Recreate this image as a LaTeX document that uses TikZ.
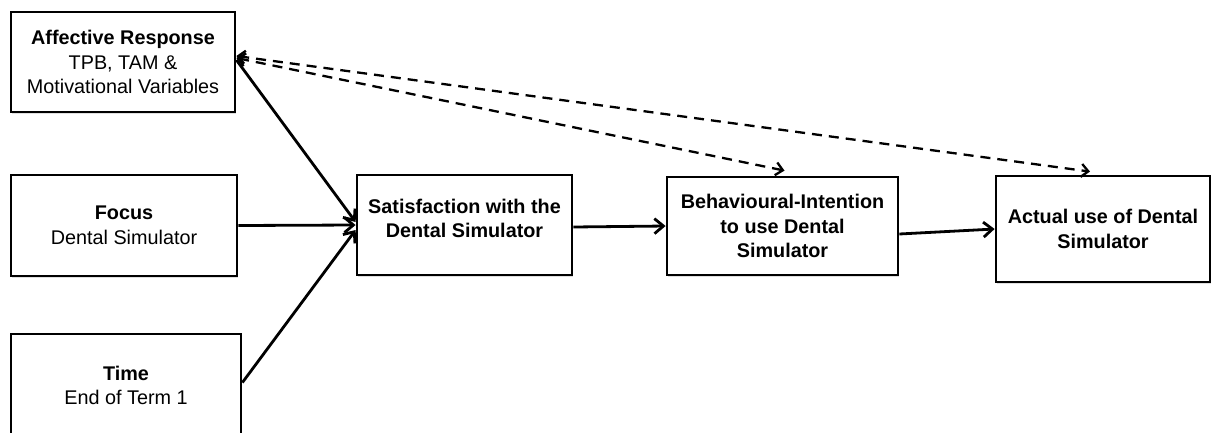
\documentclass[tikz,border=0pt]{standalone}
\usepackage{fontspec}
\setmainfont{Liberation Sans}
\usetikzlibrary{arrows.meta,shadows}

\tikzset{
  box/.style={draw=black, line width=2.8pt, fill=white, align=center,
    inner sep=0pt, font=\fontsize{19.8}{24.5}\selectfont,
    drop shadow={opacity=0.25, shadow xshift=1pt, shadow yshift=-1.5pt}},
  txt/.style={align=center, inner sep=0pt, font=\fontsize{19.8}{24.5}\selectfont},
  arr/.style={line width=2.8pt, -{Straight Barb[length=9pt,width=15pt,line width=2.8pt]}},
  darr/.style={line width=2.3pt, dash pattern=on 10pt off 7pt,
    {Straight Barb[length=7pt,width=13pt,line width=2.3pt]}-{Straight Barb[length=7pt,width=13pt,line width=2.3pt]}}
}

\begin{document}
\begin{tikzpicture}[x=1pt,y=-1pt]
  \useasboundingbox (0,0) rectangle (1220,432);

  % input boxes
  \node[box, minimum width=224pt, minimum height=100pt] (aff) at (123,62)
    {\textbf{Affective Response}\\TPB, TAM \&\\Motivational Variables};
  \node[box, minimum width=226pt, minimum height=101pt] (foc) at (124,225.5)
    {\textbf{Focus}\\Dental Simulator};
  \node[box, minimum width=230pt, minimum height=103pt] (tim) at (126,385.5)
    {\textbf{Time}\\End of Term 1};

  % chain of outcome boxes
  \node[box, minimum width=215pt, minimum height=100pt] (sat) at (464.5,225) {};
  \node[txt] (sattext) at (464.5,218.5)
    {\textbf{Satisfaction with the}\\\textbf{Dental Simulator}};
  \node[box, minimum width=231pt, minimum height=98pt] (beh) at (782.5,226)
    {\textbf{Behavioural-Intention}\\\textbf{to use Dental}\\\textbf{Simulator}};
  \node[box, minimum width=214pt, minimum height=106pt] (act) at (1103,229)
    {\textbf{Actual use of Dental}\\\textbf{Simulator}};

  % solid paths into satisfaction and along the chain
  \draw[arr] ([yshift=2pt]aff.east) -- ([yshift=3pt]sat.west);
  \draw[arr] (foc.east) -- (sat.west);
  \draw[arr] ([yshift=3pt]tim.east) -- ([yshift=-5pt]sat.west);
  \draw[arr] ([yshift=-2pt]sat.east) -- (beh.west);
  \draw[arr] ([yshift=-8pt]beh.east) -- (act.west);

  % dashed direct paths from affective response
  \draw[darr] ([yshift=4pt]aff.east) -- ([xshift=2pt,yshift=5pt]beh.north);
  \draw[darr] ([yshift=6pt]aff.east) -- ([xshift=-13pt,yshift=3pt]act.north);
\end{tikzpicture}
\end{document}
